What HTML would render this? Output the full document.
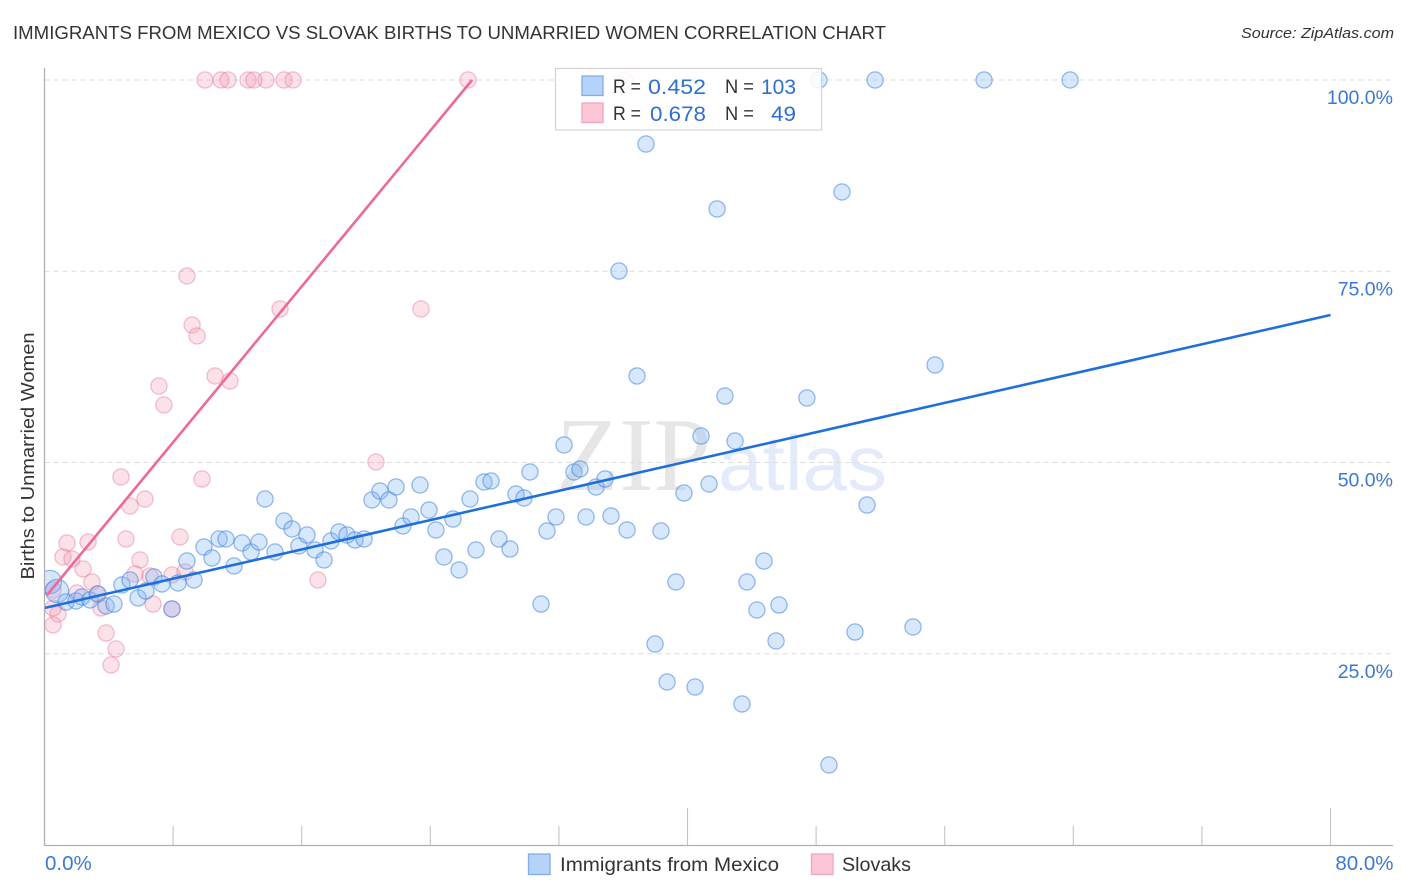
<!DOCTYPE html>
<html lang="en">
<head>
<meta charset="utf-8">
<title>Immigrants from Mexico vs Slovak Births to Unmarried Women Correlation Chart</title>
<style>
html,body{margin:0;padding:0;background:#fff;width:1406px;height:892px;overflow:hidden}
svg{display:block;font-family:"Liberation Sans",sans-serif}
</style>
</head>
<body>
<svg id="chart" xmlns="http://www.w3.org/2000/svg" width="1406" height="892" viewBox="0 0 1406 892">
  <defs>
    <clipPath id="plot-clip"><rect x="45" y="60" width="1348" height="785"></rect></clipPath>
  </defs>
  <text x="13" y="39" font-size="18.5" fill="#333" textLength="873" lengthAdjust="spacingAndGlyphs">IMMIGRANTS FROM MEXICO VS SLOVAK BIRTHS TO UNMARRIED WOMEN CORRELATION CHART</text>
  <text x="1394" y="38" font-size="15" font-style="italic" fill="#333" text-anchor="end" textLength="153" lengthAdjust="spacingAndGlyphs">Source: ZipAtlas.com</text>
  <g>
    <text x="556" y="490" font-family="'Liberation Serif',serif" font-size="105" fill="#e6e6e6" textLength="155" lengthAdjust="spacingAndGlyphs">ZIP</text>
    <text x="718" y="490" font-family="'Liberation Sans',sans-serif" font-size="78" fill="#e3ebfa" textLength="169" lengthAdjust="spacingAndGlyphs">atlas</text>
  </g>
  <g id="grid"></g>
  <g id="pink-points" clip-path="url(#plot-clip)"></g>
  <g id="blue-points" clip-path="url(#plot-clip)"></g>
  <g id="trends"></g>
  <g id="axes"></g>
  <g id="tick-labels"></g>
  <text transform="translate(34 456) rotate(-90)" font-size="18.5" fill="#333" text-anchor="middle" textLength="247" lengthAdjust="spacingAndGlyphs">Births to Unmarried Women</text>

  <g>
    <rect x="555.5" y="68.5" width="266" height="61.5" fill="#fff" fill-opacity="0.85" stroke="#d4d4d4" stroke-width="1.2"></rect>
    <rect x="582" y="76" width="21" height="19.5" fill="#b5d2f8" stroke="#83ade6" stroke-width="1.3"></rect>
    <rect x="582" y="103" width="21" height="19.5" fill="#fcc6d7" stroke="#eda6bd" stroke-width="1.3"></rect>
    <text x="613" y="93" font-size="19" fill="#333" textLength="28" lengthAdjust="spacingAndGlyphs">R =</text>
    <text x="648" y="94" font-size="21.5" fill="#2f6fd0" textLength="58" lengthAdjust="spacingAndGlyphs">0.452</text>
    <text x="725" y="93" font-size="19" fill="#333" textLength="29" lengthAdjust="spacingAndGlyphs">N =</text>
    <text x="796" y="94" font-size="21.5" fill="#2f6fd0" text-anchor="end" textLength="35" lengthAdjust="spacingAndGlyphs">103</text>
    <text x="613" y="120" font-size="19" fill="#333" textLength="28" lengthAdjust="spacingAndGlyphs">R =</text>
    <text x="650" y="121" font-size="21.5" fill="#2f6fd0" textLength="56" lengthAdjust="spacingAndGlyphs">0.678</text>
    <text x="725" y="120" font-size="19" fill="#333" textLength="29" lengthAdjust="spacingAndGlyphs">N =</text>
    <text x="796" y="121" font-size="21.5" fill="#2f6fd0" text-anchor="end" textLength="25" lengthAdjust="spacingAndGlyphs">49</text>
  </g>

  <g>
    <rect x="528.5" y="854" width="21.5" height="20.5" fill="#b5d2f8" stroke="#83ade6" stroke-width="1.3"></rect>
    <text x="560" y="871" font-size="19.5" fill="#333" textLength="219" lengthAdjust="spacingAndGlyphs">Immigrants from Mexico</text>
    <rect x="811.5" y="854" width="21.5" height="20.5" fill="#fcc6d7" stroke="#eda6bd" stroke-width="1.3"></rect>
    <text x="842" y="871" font-size="19.5" fill="#333" textLength="69" lengthAdjust="spacingAndGlyphs">Slovaks</text>
  </g>
</svg>
<script>
const xTickValues = [0, 8, 16, 24, 32, 40, 48, 56, 64, 72, 80];
const xMajorTicks = [0, 40, 80];
const xEdgeValues = [0, 80];
const xEdgeLabels = ['0.0%', '80.0%'];
const yTickValues = [25, 50, 75, 100];
const yTickLabels = ['25.0%', '50.0%', '75.0%', '100.0%'];

const blueLargeX = [0.34, 0.78];
const blueLargeY = [34.38, 33.2];
const blueX = [1.34,1.96,2.33,2.83,3.33,3.83,4.32,4.82,5.32,5.82,6.31,6.81,7.31,8.31,7.93,9.3,8.86,9.92,10.42,10.86,11.29,12.29,11.79,12.85,13.34,14.34,13.72,14.9,15.4,15.83,16.33,16.83,17.39,17.82,18.32,18.82,19.32,19.88,20.37,20.87,21.43,21.87,22.3,22.8,23.36,23.92,24.35,24.85,25.41,25.79,26.47,26.84,27.34,27.78,28.27,28.96,29.33,29.83,30.2,30.89,31.26,31.82,32.32,32.94,33.31,33.69,34.31,34.87,35.24,36.24,38.35,39.78,39.28,41.34,40.84,42.33,42.96,36.86,35.74,37.42,41.84,49.61,48.18,51.67,58.45,63.8,55.4,47.43,51.17,44.76,43.7,44.32,45.69,45.51,50.42,54.03,37.98,38.73,40.47,43.39,48.8];
const blueY = [31.76,31.9,32.42,32.03,32.81,31.24,31.5,33.99,34.64,32.29,33.2,35.03,34.12,34.25,30.85,34.64,37.12,38.95,37.52,40,40,39.48,36.47,38.3,39.61,38.3,45.23,42.35,41.31,39.09,40.52,38.56,37.26,39.74,40.92,40.52,39.87,40,45.1,46.27,45.1,46.8,41.7,42.88,47.06,43.79,41.18,37.65,42.61,35.95,45.23,38.56,47.45,47.58,40,38.69,45.88,45.36,48.76,31.5,41.05,42.88,52.29,48.76,49.15,42.88,46.8,47.84,43.01,41.18,41.05,46.01,34.38,47.19,53.46,58.69,52.81,61.31,75.03,91.63,83.14,85.36,100,100,100,100,62.75,58.43,44.44,37.12,34.38,30.72,31.37,26.67,27.84,28.5,26.27,21.31,20.65,18.43,10.46];

const pinkX = [9.98,10.98,11.42,12.66,13.03,13.78,14.9,15.46,26.35,36.11,8.86,14.65,23.42,9.18,9.49,10.61,11.54,7.12,7.43,20.62,4.76,9.8,6.25,5.32,8.43,5.07,2.71,1.4,1.15,1.71,5.94,2.4,2.95,5.63,6.56,7.93,8.74,2.02,3.27,3.51,6.75,7.93,0.84,0.53,0.53,0.53,3.83,4.45,4.14,17.01];
const pinkY = [100,100,100,100,100,100,100,100,100,100,74.38,70.07,70.07,67.97,66.54,61.31,60.65,60,57.52,50.07,48.11,47.84,45.23,44.31,40.26,40,39.61,39.48,37.65,37.39,37.26,36.08,34.38,35.43,35.16,35.29,35.69,32.94,32.81,30.98,31.5,30.85,30.2,30.98,28.76,33.33,27.71,25.62,23.53,34.64];

const blueTrendX = [0, 80];
const blueTrendY = [30.98, 69.28];
const pinkTrendX = [0.16, 26.6];
const pinkTrendY = [32.68, 100];

const NS = 'http://www.w3.org/2000/svg';
const xScale = v => 44.5 + v * 16.075;
const yScale = v => 845 - v * 7.65;

function make(tag, attrs, parent) {
  const el = document.createElementNS(NS, tag);
  for (const k in attrs) el.setAttribute(k, attrs[k]);
  parent.appendChild(el);
  return el;
}

const grid = document.getElementById('grid');
yTickValues.forEach(v => {
  const el = make('line', {x1: 44.5, x2: 1393, y1: yScale(v), y2: yScale(v), stroke: '#dcdcdc', 'stroke-width': 1.1, 'stroke-dasharray': '5 4'}, grid);
  
  
});

function drawPoints(xs, ys, groupId, radius, fill, stroke, name) {
  const group = document.getElementById(groupId);
  xs.forEach((x, i) => {
    const el = make('circle', {cx: xScale(x), cy: yScale(ys[i]), r: radius, fill: fill, stroke: stroke, 'stroke-width': 1.25}, group);
    
    
  });
}
const blueFill = 'rgba(130,180,245,0.32)';
const blueStroke = 'rgba(60,130,222,0.55)';
const pinkFill = 'rgba(242,155,180,0.3)';
const pinkStroke = 'rgba(228,118,150,0.45)';
drawPoints(pinkX, pinkY, 'pink-points', 8.1, pinkFill, pinkStroke, 'slovaks-point');
drawPoints(blueLargeX, blueLargeY, 'blue-points', 11.6, blueFill, blueStroke, 'mexico-point-large');
drawPoints(blueX, blueY, 'blue-points', 8.1, blueFill, blueStroke, 'mexico-point');

const trends = document.getElementById('trends');
const blueTrend = make('line', {x1: xScale(blueTrendX[0]), y1: yScale(blueTrendY[0]), x2: xScale(blueTrendX[1]), y2: yScale(blueTrendY[1]), stroke: '#1f6fdb', 'stroke-width': 2.6}, trends);


const pinkTrend = make('line', {x1: xScale(pinkTrendX[0]), y1: yScale(pinkTrendY[0]), x2: xScale(pinkTrendX[1]), y2: yScale(pinkTrendY[1]), stroke: '#ec6a96', 'stroke-width': 2.6}, trends);



const axes = document.getElementById('axes');
const yAxis = make('line', {x1: 44.5, x2: 44.5, y1: 68, y2: 846, stroke: '#b0b0b0', 'stroke-width': 1.3}, axes);


const xAxis = make('line', {x1: 44, x2: 1393, y1: 845.5, y2: 845.5, stroke: '#b0b0b0', 'stroke-width': 1.3}, axes);


xTickValues.forEach(v => {
  if (v === 0) return;
  const top = xMajorTicks.includes(v) ? 808 : 826;
  const el = make('line', {x1: xScale(v), x2: xScale(v), y1: top, y2: 845, stroke: '#c4c4c4', 'stroke-width': 1.1}, axes);
  
  
});

const labels = document.getElementById('tick-labels');
yTickValues.forEach((v, i) => {
  const el = make('text', {x: 1393, y: yScale(v) + 24, 'font-size': 19.5, fill: '#3b78d6', 'text-anchor': 'end'}, labels);
  el.textContent = yTickLabels[i];
  
  
});
xEdgeValues.forEach((v, i) => {
  const el = make('text', {x: i === 0 ? xScale(v) + 0.5 : 1393.5, y: 870, 'font-size': 20.5, fill: '#3b78d6', 'text-anchor': i === 0 ? 'start' : 'end'}, labels);
  el.textContent = xEdgeLabels[i];
  
  
});
</script>
</body>
</html>
